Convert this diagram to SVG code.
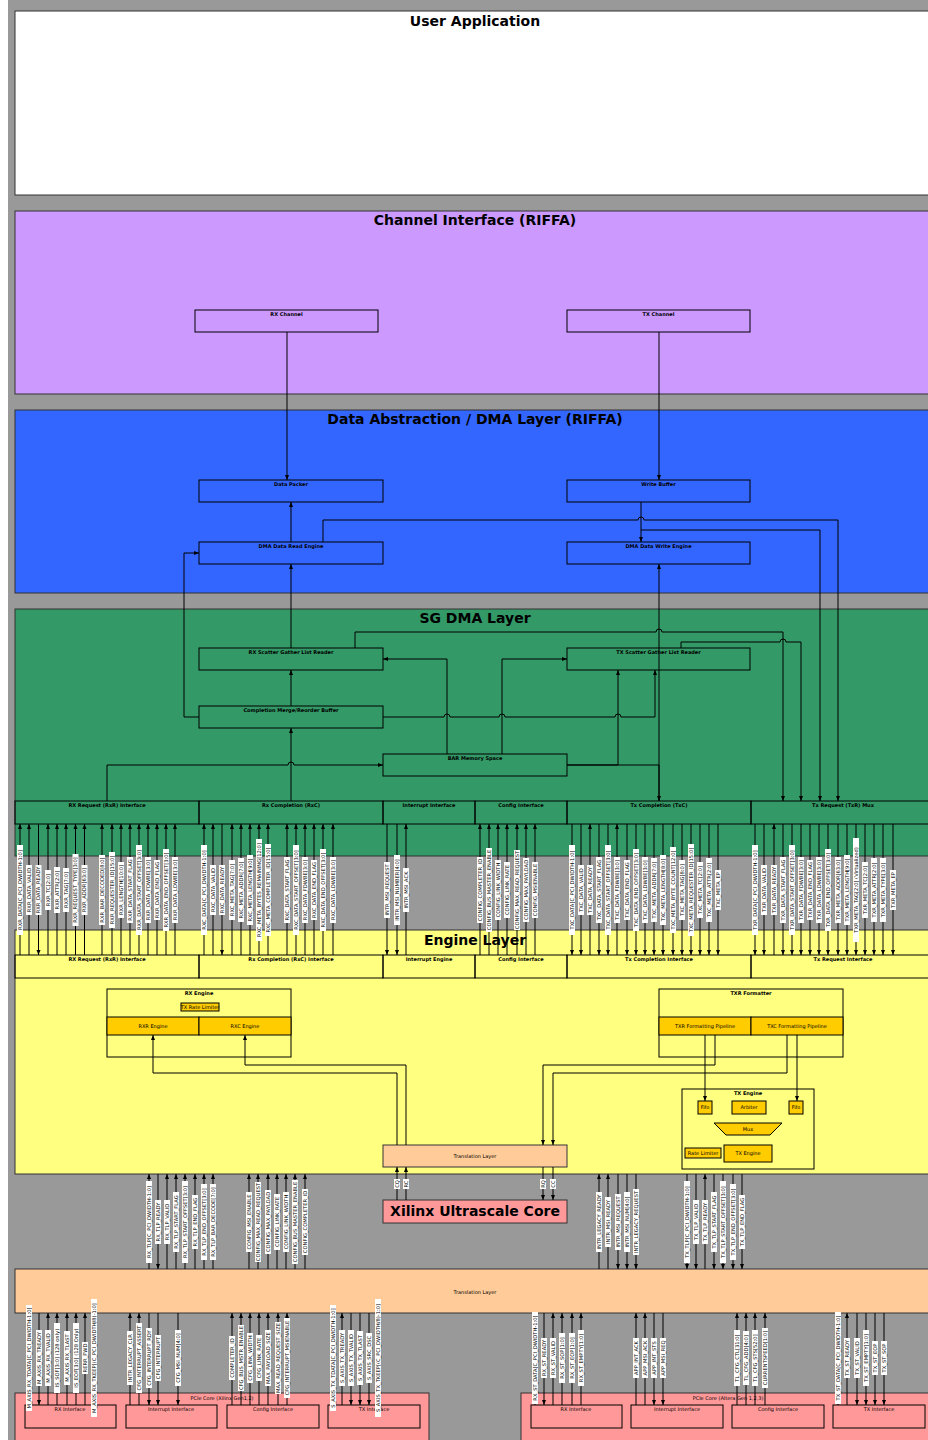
<svg xmlns="http://www.w3.org/2000/svg" width="928" height="1440" viewBox="0 0 928 1440">
<style>
.ly{stroke:#333;stroke-width:1}
.nd{fill:none;stroke:#000;stroke-width:1}
.or{fill:#ffcc00;stroke:#000;stroke-width:1}
.tt{font-family:"DejaVu Sans",sans-serif;font-size:14px;font-weight:bold;text-anchor:middle;fill:#000}
.nb{font-family:"DejaVu Sans",sans-serif;font-size:5px;font-weight:bold;text-anchor:middle;fill:#000}
.nr{font-family:"DejaVu Sans",sans-serif;font-size:5px;text-anchor:middle;fill:#000}
.c{fill:none;stroke:#000;stroke-width:1}
.lb rect{fill:#fff}
.lb text{font-family:"DejaVu Sans",sans-serif;font-size:5.2px;text-anchor:middle;fill:#000}
</style>
<defs>
<marker id="a" viewBox="0 0 10 10" refX="10" refY="5" markerWidth="5" markerHeight="5" markerUnits="userSpaceOnUse" orient="auto"><path d="M0,1L10,5L0,9z" fill="#000"/></marker>
</defs>
<rect x="8" y="0" width="920" height="1440" fill="#999"/>

<g id="user-app"><rect class="ly" x="15" y="11" width="920" height="184" fill="#fff"/><text class="tt" x="475" y="26">User Application</text></g>
<g id="channel-layer"><rect class="ly" x="15" y="211" width="920" height="183" fill="#cc99ff"/><text class="tt" x="475" y="225">Channel Interface (RIFFA)</text></g>
<g id="dma-layer"><rect class="ly" x="15" y="410" width="920" height="183" fill="#3366ff"/><text class="tt" x="475" y="424">Data Abstraction / DMA Layer (RIFFA)</text></g>
<g id="sg-layer"><rect class="ly" x="15" y="609" width="920" height="247" fill="#339966"/><text class="tt" x="475" y="623">SG DMA Layer</text></g>
<g id="engine-layer"><rect class="ly" x="15" y="930" width="920" height="244" fill="#ffff80"/><text class="tt" x="475" y="945">Engine Layer</text></g>
<g id="translation-bottom"><rect class="ly" x="15" y="1269" width="920" height="44" fill="#ffcc99"/><text class="nr" x="475" y="1294">Translation Layer</text></g>
<g id="pcie-xilinx"><rect class="ly" x="15" y="1393" width="414" height="50" fill="#ff9999"/><text class="nr" x="222" y="1400">PCIe Core (Xilinx Gen1,2)</text>
<rect class="nd" x="25" y="1405" width="91" height="23"/><text class="nr" x="70" y="1411">RX Interface</text>
<rect class="nd" x="126" y="1405" width="91" height="23"/><text class="nr" x="171" y="1411">Interrupt Interface</text>
<rect class="nd" x="227" y="1405" width="92" height="23"/><text class="nr" x="273" y="1411">Config Interface</text>
<rect class="nd" x="328" y="1405" width="92" height="23"/><text class="nr" x="374" y="1411">TX Interface</text></g>
<g id="pcie-altera"><rect class="ly" x="521" y="1393" width="414" height="50" fill="#ff9999"/><text class="nr" x="728" y="1400">PCIe Core (Altera Gen 1,2,3)</text>
<rect class="nd" x="531" y="1405" width="91" height="23"/><text class="nr" x="576" y="1411">RX Interface</text>
<rect class="nd" x="631" y="1405" width="92" height="23"/><text class="nr" x="677" y="1411">Interrupt Interface</text>
<rect class="nd" x="732" y="1405" width="92" height="23"/><text class="nr" x="778" y="1411">Config Interface</text>
<rect class="nd" x="833" y="1405" width="92" height="23"/><text class="nr" x="879" y="1411">TX Interface</text></g>
<g id="xilinx-core"><rect class="ly" x="383" y="1200" width="184" height="23" fill="#ff9999"/><text class="tt" x="475" y="1216">Xilinx Ultrascale Core</text></g>

<g id="rx-channel"><rect class="nd" x="195" y="310" width="183" height="22"/><text class="nb" x="286.5" y="316">RX Channel</text></g>
<g id="tx-channel"><rect class="nd" x="567" y="310" width="183" height="22"/><text class="nb" x="658.5" y="316">TX Channel</text></g>
<g id="data-packer"><rect class="nd" x="199" y="480" width="184" height="22"/><text class="nb" x="291" y="486">Data Packer</text></g>
<g id="write-buffer"><rect class="nd" x="567" y="480" width="183" height="22"/><text class="nb" x="658.5" y="486">Write Buffer</text></g>
<g id="dma-read"><rect class="nd" x="199" y="542" width="184" height="22"/><text class="nb" x="291" y="548">DMA Data Read Engine</text></g>
<g id="dma-write"><rect class="nd" x="567" y="542" width="183" height="22"/><text class="nb" x="658.5" y="548">DMA Data Write Engine</text></g>
<g id="rx-sg"><rect class="nd" x="199" y="648" width="184" height="22"/><text class="nb" x="291" y="654">RX Scatter Gather List Reader</text></g>
<g id="tx-sg"><rect class="nd" x="567" y="648" width="183" height="22"/><text class="nb" x="658.5" y="654">TX Scatter Gather List Reader</text></g>
<g id="merge"><rect class="nd" x="199" y="706" width="184" height="22"/><text class="nb" x="291" y="712">Completion Merge/Reorder Buffer</text></g>
<g id="bar"><rect class="nd" x="383" y="754" width="184" height="22"/><text class="nb" x="475" y="760">BAR Memory Space</text></g>
<g id="sg-rxr"><rect class="nd" x="15" y="801" width="184" height="23"/><text class="nb" x="107" y="807">RX Request (RxR) Interface</text></g>
<g id="sg-rxc"><rect class="nd" x="199" y="801" width="184" height="23"/><text class="nb" x="291" y="807">Rx Completion (RxC)</text></g>
<g id="sg-int"><rect class="nd" x="383" y="801" width="92" height="23"/><text class="nb" x="429" y="807">Interrupt Interface</text></g>
<g id="sg-cfg"><rect class="nd" x="475" y="801" width="92" height="23"/><text class="nb" x="521" y="807">Config Interface</text></g>
<g id="sg-txc"><rect class="nd" x="567" y="801" width="184" height="23"/><text class="nb" x="659" y="807">Tx Completion (TxC)</text></g>
<g id="sg-txr"><rect class="nd" x="751" y="801" width="184" height="23"/><text class="nb" x="843" y="807">Tx Request (TxR) Mux</text></g>
<g id="en-rxr"><rect class="nd" x="15" y="955" width="184" height="23"/><text class="nb" x="107" y="961">RX Request (RxR) Interface</text></g>
<g id="en-rxc"><rect class="nd" x="199" y="955" width="184" height="23"/><text class="nb" x="291" y="961">Rx Completion (RxC) Interface</text></g>
<g id="en-int"><rect class="nd" x="383" y="955" width="92" height="23"/><text class="nb" x="429" y="961">Interrupt Engine</text></g>
<g id="en-cfg"><rect class="nd" x="475" y="955" width="92" height="23"/><text class="nb" x="521" y="961">Config Interface</text></g>
<g id="en-txc"><rect class="nd" x="567" y="955" width="184" height="23"/><text class="nb" x="659" y="961">Tx Completion Interface</text></g>
<g id="en-txr"><rect class="nd" x="751" y="955" width="184" height="23"/><text class="nb" x="843" y="961">Tx Request Interface</text></g>
<g id="rx-engine"><rect class="nd" x="107" y="989" width="184" height="68"/><text class="nb" x="199" y="995">RX Engine</text>
<rect class="or" x="181" y="1003" width="38" height="8"/><text class="nr" x="200" y="1009">TX Rate Limiter</text>
<rect class="or" x="107" y="1017" width="92" height="18"/><text class="nr" x="153" y="1028">RXR Engine</text>
<rect class="or" x="199" y="1017" width="92" height="18"/><text class="nr" x="245" y="1028">RXC Engine</text></g>
<g id="txr-formatter"><rect class="nd" x="659" y="989" width="184" height="68"/><text class="nb" x="751" y="995">TXR Formatter</text>
<rect class="or" x="659" y="1017" width="92" height="18"/><text class="nr" x="705" y="1028">TXR Formatting Pipeline</text>
<rect class="or" x="751" y="1017" width="92" height="18"/><text class="nr" x="797" y="1028">TXC Formatting Pipeline</text></g>
<g id="tx-engine"><rect class="nd" x="682" y="1089" width="132" height="80"/><text class="nb" x="748" y="1095">TX Engine</text>
<rect class="or" x="698" y="1101" width="14" height="13"/><text class="nr" x="705" y="1109">Fifo</text>
<rect class="or" x="732" y="1101" width="34" height="13"/><text class="nr" x="749" y="1109">Arbiter</text>
<rect class="or" x="789" y="1101" width="14" height="13"/><text class="nr" x="796" y="1109">Fifo</text>
<path class="or" d="M714,1123H782L770,1135H726Z"/><text class="nr" x="748" y="1131">Mux</text>
<rect class="or" x="685" y="1148" width="36" height="10"/><text class="nr" x="703" y="1155">Rate Limiter</text>
<rect class="or" x="724" y="1145" width="48" height="17"/><text class="nr" x="748" y="1155">TX Engine</text></g>
<g id="translation-engine"><rect class="ly" x="383" y="1145" width="184" height="22" fill="#ffcc99"/><text class="nr" x="475" y="1158">Translation Layer</text></g>

<g id="connectors" marker-end="url(#a)">
<path class="c" d="M287,332V480"/>
<path class="c" d="M659,332V480"/>
<path class="c" d="M291,542V502"/>
<path class="c" d="M323,542V520H638a3,3 0 0 1 6,0H838V801"/>
<path class="c" d="M641,502V542"/>
<path class="c" d="M641,530H820V801"/>
<path class="c" d="M659,801V564"/>
<path class="c" d="M291,648V564"/>
<path class="c" d="M291,706V670"/>
<path class="c" d="M291,801V728"/>
<path class="c" d="M107,801V765H288a3,3 0 0 1 6,0H383"/>
<path class="c" d="M447,754V659H383"/>
<path class="c" d="M502,754V659H567"/>
<path class="c" d="M383,717H444a3,3 0 0 1 6,0H499a3,3 0 0 1 6,0H615a3,3 0 0 1 6,0H655V670"/>
<path class="c" d="M567,765H618V670"/>
<path class="c" d="M567,765H659V801"/>
<path class="c" d="M355,648V632H656a3,3 0 0 1 6,0H783V801"/>
<path class="c" d="M681,648V642H780a3,3 0 0 1 6,0H801V801"/>
<path class="c" d="M199,717H184V553H199"/>
<path class="c" d="M397,1145V1073H153V1035"/>
<path class="c" d="M406,1145V1065H245V1035"/>
<path class="c" d="M705,1035V1101"/>
<path class="c" d="M797,1035V1101"/>
<path class="c" d="M715,1035V1065H543V1145"/>
<path class="c" d="M787,1035V1073H553V1145"/>
<path class="c" d="M397,1200V1167"/>
<path class="c" d="M406,1200V1167"/>
<path class="c" d="M543,1167V1200"/>
<path class="c" d="M553,1167V1200"/>

<path class="c" d="M20,955V824"/><path class="c" d="M29,955V824"/><path class="c" d="M38.5,824V955"/><path class="c" d="M48,955V824"/><path class="c" d="M57,955V824"/><path class="c" d="M66,955V824"/><path class="c" d="M75.5,955V824"/><path class="c" d="M84.5,955V824"/>
<path class="c" d="M102,955V824"/><path class="c" d="M112,955V824"/><path class="c" d="M121,955V824"/><path class="c" d="M130,955V824"/><path class="c" d="M139,955V824"/><path class="c" d="M148,955V824"/><path class="c" d="M157,955V824"/><path class="c" d="M166,955V824"/><path class="c" d="M175,955V824"/>
<path class="c" d="M204,955V824"/><path class="c" d="M213,955V824"/><path class="c" d="M222,824V955"/><path class="c" d="M232,955V824"/><path class="c" d="M241,955V824"/><path class="c" d="M250,955V824"/><path class="c" d="M259,955V824"/><path class="c" d="M268,955V824"/>
<path class="c" d="M287,955V824"/><path class="c" d="M296,955V824"/><path class="c" d="M305,955V824"/><path class="c" d="M314,955V824"/><path class="c" d="M323,955V824"/><path class="c" d="M333,955V824"/>
<path class="c" d="M387,824V955"/><path class="c" d="M397,824V955"/><path class="c" d="M406,955V824"/>
<path class="c" d="M480,955V824"/><path class="c" d="M489,955V824"/><path class="c" d="M498,955V824"/><path class="c" d="M507,955V824"/><path class="c" d="M517,955V824"/><path class="c" d="M526,955V824"/><path class="c" d="M535,955V824"/>
<path class="c" d="M572,824V955"/><path class="c" d="M581,824V955"/><path class="c" d="M590,955V824"/><path class="c" d="M599,824V955"/><path class="c" d="M608,824V955"/><path class="c" d="M617,955V824"/><path class="c" d="M627,824V955"/><path class="c" d="M636,824V955"/><path class="c" d="M645,824V955"/><path class="c" d="M654,824V955"/><path class="c" d="M663,824V955"/><path class="c" d="M673,824V955"/><path class="c" d="M682,824V955"/><path class="c" d="M691,824V955"/><path class="c" d="M700,824V955"/><path class="c" d="M709,824V955"/><path class="c" d="M718,824V955"/>
<path class="c" d="M755,824V955"/><path class="c" d="M764,824V955"/><path class="c" d="M774,955V824"/><path class="c" d="M783,824V955"/><path class="c" d="M792,824V955"/><path class="c" d="M801,824V955"/><path class="c" d="M810,824V955"/><path class="c" d="M819,824V955"/><path class="c" d="M828,824V955"/><path class="c" d="M838,824V955"/><path class="c" d="M847,824V955"/><path class="c" d="M856,824V955"/><path class="c" d="M865,824V955"/><path class="c" d="M874,824V955"/><path class="c" d="M883,824V955"/><path class="c" d="M893,824V955"/>

<path class="c" d="M149,1269V1174"/><path class="c" d="M158,1174V1269"/><path class="c" d="M167,1269V1174"/><path class="c" d="M176,1269V1174"/><path class="c" d="M185,1269V1174"/><path class="c" d="M195,1269V1174"/><path class="c" d="M204,1269V1174"/><path class="c" d="M213,1269V1174"/>
<path class="c" d="M249,1269V1174"/><path class="c" d="M258,1269V1174"/><path class="c" d="M268,1269V1174"/><path class="c" d="M277,1269V1174"/><path class="c" d="M286,1269V1174"/><path class="c" d="M295,1269V1174"/><path class="c" d="M305,1269V1174"/>
<path class="c" d="M599,1269V1174"/><path class="c" d="M608,1269V1174"/><path class="c" d="M618,1174V1269"/><path class="c" d="M627,1174V1269"/><path class="c" d="M636,1174V1269"/>
<path class="c" d="M687,1174V1269"/><path class="c" d="M696,1174V1269"/><path class="c" d="M705,1269V1174"/><path class="c" d="M714,1174V1269"/><path class="c" d="M723,1174V1269"/><path class="c" d="M733,1174V1269"/><path class="c" d="M742,1174V1269"/>

<path class="c" d="M29,1405V1313"/><path class="c" d="M39,1313V1405"/><path class="c" d="M48,1405V1313"/><path class="c" d="M57,1405V1313"/><path class="c" d="M67,1405V1313"/><path class="c" d="M76,1405V1313"/><path class="c" d="M85,1405V1313"/><path class="c" d="M94,1405V1313"/>
<path class="c" d="M130,1405V1313"/><path class="c" d="M139,1405V1313"/><path class="c" d="M149,1313V1405"/><path class="c" d="M158,1313V1405"/><path class="c" d="M178,1313V1405"/>
<path class="c" d="M232,1405V1313"/><path class="c" d="M241,1405V1313"/><path class="c" d="M250,1405V1313"/><path class="c" d="M259,1405V1313"/><path class="c" d="M268,1405V1313"/><path class="c" d="M278,1405V1313"/><path class="c" d="M287,1405V1313"/>
<path class="c" d="M333,1313V1405"/><path class="c" d="M342,1405V1313"/><path class="c" d="M351,1313V1405"/><path class="c" d="M360,1313V1405"/><path class="c" d="M369,1313V1405"/><path class="c" d="M378,1313V1405"/>
<path class="c" d="M535,1405V1313"/><path class="c" d="M544,1313V1405"/><path class="c" d="M553,1405V1313"/><path class="c" d="M562,1405V1313"/><path class="c" d="M572,1405V1313"/><path class="c" d="M581,1405V1313"/>
<path class="c" d="M636,1405V1313"/><path class="c" d="M645,1405V1313"/><path class="c" d="M654,1313V1405"/><path class="c" d="M663,1313V1405"/>
<path class="c" d="M737,1405V1313"/><path class="c" d="M746,1405V1313"/><path class="c" d="M755,1405V1313"/><path class="c" d="M765,1405V1313"/>
<path class="c" d="M838,1313V1405"/><path class="c" d="M847,1405V1313"/><path class="c" d="M857,1313V1405"/><path class="c" d="M866,1313V1405"/><path class="c" d="M875,1313V1405"/><path class="c" d="M884,1313V1405"/>
</g>

<g id="labels" class="lb">
<g transform="translate(397,1184) rotate(-90)"><rect x="-5" y="-3" width="10" height="6"/><text y="1.8">CQ</text></g>
<g transform="translate(406,1184) rotate(-90)"><rect x="-5" y="-3" width="10" height="6"/><text y="1.8">RC</text></g>
<g transform="translate(543,1184) rotate(-90)"><rect x="-5" y="-3" width="10" height="6"/><text y="1.8">RQ</text></g>
<g transform="translate(553,1184) rotate(-90)"><rect x="-5" y="-3" width="10" height="6"/><text y="1.8">CC</text></g>

<g transform="translate(20,890) rotate(-90)"><rect x="-45" y="-3" width="90" height="6"/><text y="1.8">RXR_DATA[C_PCI_DWIDTH-1:0]</text></g>
<g transform="translate(29,890) rotate(-90)"><rect x="-25" y="-3" width="50" height="6"/><text y="1.8">RXR_DATA_VALID</text></g>
<g transform="translate(38.5,890) rotate(-90)"><rect x="-25" y="-3" width="50" height="6"/><text y="1.8">RXR_DATA_READY</text></g>
<g transform="translate(48,890) rotate(-90)"><rect x="-20" y="-3" width="40" height="6"/><text y="1.8">RXR_TC[2:0]</text></g>
<g transform="translate(57,890) rotate(-90)"><rect x="-23" y="-3" width="46" height="6"/><text y="1.8">RXR_ATTR[2:0]</text></g>
<g transform="translate(66,890) rotate(-90)"><rect x="-22" y="-3" width="44" height="6"/><text y="1.8">RXR_TAG[7:0]</text></g>
<g transform="translate(75.5,890) rotate(-90)"><rect x="-36" y="-3" width="72" height="6"/><text y="1.8">RXR_REQUEST_TYPE[3:0]</text></g>
<g transform="translate(84.5,890) rotate(-90)"><rect x="-25" y="-3" width="50" height="6"/><text y="1.8">RXR_ADDR[63:0]</text></g>
<g transform="translate(102,890) rotate(-90)"><rect x="-35" y="-3" width="70" height="6"/><text y="1.8">RXR_BAR_DECODED[8:0]</text></g>
<g transform="translate(112,890) rotate(-90)"><rect x="-38" y="-3" width="76" height="6"/><text y="1.8">RXR_REQUESTER_ID[15:0]</text></g>
<g transform="translate(121,890) rotate(-90)"><rect x="-28" y="-3" width="56" height="6"/><text y="1.8">RXR_LENGTH[10:0]</text></g>
<g transform="translate(130,890) rotate(-90)"><rect x="-33" y="-3" width="66" height="6"/><text y="1.8">RXR_DATA_START_FLAG</text></g>
<g transform="translate(139,890) rotate(-90)"><rect x="-45" y="-3" width="90" height="6"/><text y="1.8">RXR_DATA_START_OFFSET[3:0]</text></g>
<g transform="translate(148,890) rotate(-90)"><rect x="-33" y="-3" width="66" height="6"/><text y="1.8">RXR_DATA_FDWBE[3:0]</text></g>
<g transform="translate(157,890) rotate(-90)"><rect x="-30" y="-3" width="60" height="6"/><text y="1.8">RXR_DATA_END_FLAG</text></g>
<g transform="translate(166,890) rotate(-90)"><rect x="-41" y="-3" width="82" height="6"/><text y="1.8">RXR_DATA_END_OFFSET[3:0]</text></g>
<g transform="translate(175,890) rotate(-90)"><rect x="-33" y="-3" width="66" height="6"/><text y="1.8">RXR_DATA_LDWBE[3:0]</text></g>

<g transform="translate(204,890) rotate(-90)"><rect x="-45" y="-3" width="90" height="6"/><text y="1.8">RXC_DATA[C_PCI_DWIDTH-1:0]</text></g>
<g transform="translate(213,890) rotate(-90)"><rect x="-25" y="-3" width="50" height="6"/><text y="1.8">RXC_DATA_VALID</text></g>
<g transform="translate(222,890) rotate(-90)"><rect x="-25" y="-3" width="50" height="6"/><text y="1.8">RXC_DATA_READY</text></g>
<g transform="translate(232,890) rotate(-90)"><rect x="-30" y="-3" width="60" height="6"/><text y="1.8">RXC_META_TAG[7:0]</text></g>
<g transform="translate(241,890) rotate(-90)"><rect x="-32" y="-3" width="64" height="6"/><text y="1.8">RXC_META_ADDR[7:0]</text></g>
<g transform="translate(250,890) rotate(-90)"><rect x="-35" y="-3" width="70" height="6"/><text y="1.8">RXC_META_LENGTH[9:0]</text></g>
<g transform="translate(259,890) rotate(-90)"><rect x="-51" y="-3" width="102" height="6"/><text y="1.8">RXC_META_BYTES_REMAINING[12:0]</text></g>
<g transform="translate(268,890) rotate(-90)"><rect x="-46" y="-3" width="92" height="6"/><text y="1.8">RXC_META_COMPLETER_ID[15:0]</text></g>
<g transform="translate(287,890) rotate(-90)"><rect x="-33" y="-3" width="66" height="6"/><text y="1.8">RXC_DATA_START_FLAG</text></g>
<g transform="translate(296,890) rotate(-90)"><rect x="-45" y="-3" width="90" height="6"/><text y="1.8">RXC_DATA_START_OFFSET[3:0]</text></g>
<g transform="translate(305,890) rotate(-90)"><rect x="-33" y="-3" width="66" height="6"/><text y="1.8">RXC_DATA_FDWBE[3:0]</text></g>
<g transform="translate(314,890) rotate(-90)"><rect x="-30" y="-3" width="60" height="6"/><text y="1.8">RXC_DATA_END_FLAG</text></g>
<g transform="translate(323,890) rotate(-90)"><rect x="-41" y="-3" width="82" height="6"/><text y="1.8">RXC_DATA_END_OFFSET[3:0]</text></g>
<g transform="translate(333,890) rotate(-90)"><rect x="-33" y="-3" width="66" height="6"/><text y="1.8">RXC_DATA_LDWBE[3:0]</text></g>

<g transform="translate(387,890) rotate(-90)"><rect x="-28" y="-3" width="56" height="6"/><text y="1.8">INTR_MSI_REQUEST</text></g>
<g transform="translate(397,890) rotate(-90)"><rect x="-35" y="-3" width="70" height="6"/><text y="1.8">INTR_MSI_NUMBER[4:0]</text></g>
<g transform="translate(406,890) rotate(-90)"><rect x="-22" y="-3" width="44" height="6"/><text y="1.8">INTR_MSI_ACK</text></g>

<g transform="translate(480,890) rotate(-90)"><rect x="-33" y="-3" width="66" height="6"/><text y="1.8">CONFIG_COMPLETER_ID</text></g>
<g transform="translate(489,890) rotate(-90)"><rect x="-42" y="-3" width="84" height="6"/><text y="1.8">CONFIG_BUS_MASTER_ENABLE</text></g>
<g transform="translate(498,890) rotate(-90)"><rect x="-30" y="-3" width="60" height="6"/><text y="1.8">CONFIG_LINK_WIDTH</text></g>
<g transform="translate(507,890) rotate(-90)"><rect x="-28" y="-3" width="56" height="6"/><text y="1.8">CONFIG_LINK_RATE</text></g>
<g transform="translate(517,890) rotate(-90)"><rect x="-40" y="-3" width="80" height="6"/><text y="1.8">CONFIG_MAX_READ_REQUEST</text></g>
<g transform="translate(526,890) rotate(-90)"><rect x="-32" y="-3" width="64" height="6"/><text y="1.8">CONFIG_MAX_PAYLOAD</text></g>
<g transform="translate(535,890) rotate(-90)"><rect x="-28" y="-3" width="56" height="6"/><text y="1.8">CONFIG_MSIENABLE</text></g>

<g transform="translate(572,890) rotate(-90)"><rect x="-45" y="-3" width="90" height="6"/><text y="1.8">TXC_DATA[C_PCI_DWIDTH-1:0]</text></g>
<g transform="translate(581,890) rotate(-90)"><rect x="-25" y="-3" width="50" height="6"/><text y="1.8">TXC_DATA_VALID</text></g>
<g transform="translate(590,890) rotate(-90)"><rect x="-25" y="-3" width="50" height="6"/><text y="1.8">TXC_DATA_READY</text></g>
<g transform="translate(599,890) rotate(-90)"><rect x="-33" y="-3" width="66" height="6"/><text y="1.8">TXC_DATA_START_FLAG</text></g>
<g transform="translate(608,890) rotate(-90)"><rect x="-45" y="-3" width="90" height="6"/><text y="1.8">TXC_DATA_START_OFFSET[3:0]</text></g>
<g transform="translate(617,890) rotate(-90)"><rect x="-33" y="-3" width="66" height="6"/><text y="1.8">TXC_DATA_FDWBE[3:0]</text></g>
<g transform="translate(627,890) rotate(-90)"><rect x="-30" y="-3" width="60" height="6"/><text y="1.8">TXC_DATA_END_FLAG</text></g>
<g transform="translate(636,890) rotate(-90)"><rect x="-41" y="-3" width="82" height="6"/><text y="1.8">TXC_DATA_END_OFFSET[3:0]</text></g>
<g transform="translate(645,890) rotate(-90)"><rect x="-33" y="-3" width="66" height="6"/><text y="1.8">TXC_DATA_LDWBE[3:0]</text></g>
<g transform="translate(654,890) rotate(-90)"><rect x="-32" y="-3" width="64" height="6"/><text y="1.8">TXC_META_ADDR[7:0]</text></g>
<g transform="translate(663,890) rotate(-90)"><rect x="-35" y="-3" width="70" height="6"/><text y="1.8">TXC_META_LENGTH[8:0]</text></g>
<g transform="translate(673,890) rotate(-90)"><rect x="-43" y="-3" width="86" height="6"/><text y="1.8">TXC_META_BYTE_COUNT[12:0]</text></g>
<g transform="translate(682,890) rotate(-90)"><rect x="-30" y="-3" width="60" height="6"/><text y="1.8">TXC_META_TAG[8:0]</text></g>
<g transform="translate(691,890) rotate(-90)"><rect x="-46" y="-3" width="92" height="6"/><text y="1.8">TXC_META_REQUESTER_ID[15:0]</text></g>
<g transform="translate(700,890) rotate(-90)"><rect x="-28" y="-3" width="56" height="6"/><text y="1.8">TXC_META_TC[2:0]</text></g>
<g transform="translate(709,890) rotate(-90)"><rect x="-32" y="-3" width="64" height="6"/><text y="1.8">TXC_META_ATTR[2:0]</text></g>
<g transform="translate(718,890) rotate(-90)"><rect x="-20" y="-3" width="40" height="6"/><text y="1.8">TXC_META_EP</text></g>

<g transform="translate(755,890) rotate(-90)"><rect x="-45" y="-3" width="90" height="6"/><text y="1.8">TXR_DATA[C_PCI_DWIDTH-1:0]</text></g>
<g transform="translate(764,890) rotate(-90)"><rect x="-25" y="-3" width="50" height="6"/><text y="1.8">TXR_DATA_VALID</text></g>
<g transform="translate(774,890) rotate(-90)"><rect x="-25" y="-3" width="50" height="6"/><text y="1.8">TXR_DATA_READY</text></g>
<g transform="translate(783,890) rotate(-90)"><rect x="-33" y="-3" width="66" height="6"/><text y="1.8">TXR_DATA_START_FLAG</text></g>
<g transform="translate(792,890) rotate(-90)"><rect x="-45" y="-3" width="90" height="6"/><text y="1.8">TXR_DATA_START_OFFSET[3:0]</text></g>
<g transform="translate(801,890) rotate(-90)"><rect x="-33" y="-3" width="66" height="6"/><text y="1.8">TXR_DATA_FDWBE[3:0]</text></g>
<g transform="translate(810,890) rotate(-90)"><rect x="-30" y="-3" width="60" height="6"/><text y="1.8">TXR_DATA_END_FLAG</text></g>
<g transform="translate(819,890) rotate(-90)"><rect x="-33" y="-3" width="66" height="6"/><text y="1.8">TXR_DATA_LDWBE[3:0]</text></g>
<g transform="translate(828,890) rotate(-90)"><rect x="-41" y="-3" width="82" height="6"/><text y="1.8">TXR_DATA_END_OFFSET[3:0]</text></g>
<g transform="translate(838,890) rotate(-90)"><rect x="-33" y="-3" width="66" height="6"/><text y="1.8">TXR_META_ADDR[63:0]</text></g>
<g transform="translate(847,890) rotate(-90)"><rect x="-35" y="-3" width="70" height="6"/><text y="1.8">TXR_META_LENGTH[9:0]</text></g>
<g transform="translate(856,890) rotate(-90)"><rect x="-52" y="-3" width="104" height="6"/><text y="1.8">TXR_META_TAG[2:0] (Virtualized)</text></g>
<g transform="translate(865,890) rotate(-90)"><rect x="-28" y="-3" width="56" height="6"/><text y="1.8">TXR_META_TC[2:0]</text></g>
<g transform="translate(874,890) rotate(-90)"><rect x="-32" y="-3" width="64" height="6"/><text y="1.8">TXR_META_ATTR[2:0]</text></g>
<g transform="translate(883,890) rotate(-90)"><rect x="-32" y="-3" width="64" height="6"/><text y="1.8">TXR_META_TYPE[3:0]</text></g>
<g transform="translate(893,890) rotate(-90)"><rect x="-20" y="-3" width="40" height="6"/><text y="1.8">TXR_META_EP</text></g>

<g transform="translate(149,1222) rotate(-90)"><rect x="-41" y="-3" width="82" height="6"/><text y="1.8">RX_TLP[C_PCI_DWIDTH-1:0]</text></g>
<g transform="translate(158,1222) rotate(-90)"><rect x="-22" y="-3" width="44" height="6"/><text y="1.8">RX_TLP_READY</text></g>
<g transform="translate(167,1222) rotate(-90)"><rect x="-22" y="-3" width="44" height="6"/><text y="1.8">RX_TLP_VALID</text></g>
<g transform="translate(176,1222) rotate(-90)"><rect x="-30" y="-3" width="60" height="6"/><text y="1.8">RX_TLP_START_FLAG</text></g>
<g transform="translate(185,1222) rotate(-90)"><rect x="-41" y="-3" width="82" height="6"/><text y="1.8">RX_TLP_START_OFFSET[3:0]</text></g>
<g transform="translate(195,1222) rotate(-90)"><rect x="-27" y="-3" width="54" height="6"/><text y="1.8">RX_TLP_END_FLAG</text></g>
<g transform="translate(204,1222) rotate(-90)"><rect x="-38" y="-3" width="76" height="6"/><text y="1.8">RX_TLP_END_OFFSET[3:0]</text></g>
<g transform="translate(213,1222) rotate(-90)"><rect x="-38" y="-3" width="76" height="6"/><text y="1.8">RX_TLP_BAR_DECODE[7:0]</text></g>
<g transform="translate(249,1222) rotate(-90)"><rect x="-30" y="-3" width="60" height="6"/><text y="1.8">CONFIG_MSI_ENABLE</text></g>
<g transform="translate(258,1222) rotate(-90)"><rect x="-40" y="-3" width="80" height="6"/><text y="1.8">CONFIG_MAX_READ_REQUEST</text></g>
<g transform="translate(268,1222) rotate(-90)"><rect x="-32" y="-3" width="64" height="6"/><text y="1.8">CONFIG_MAX_PAYLOAD</text></g>
<g transform="translate(277,1222) rotate(-90)"><rect x="-28" y="-3" width="56" height="6"/><text y="1.8">CONFIG_LINK_RATE</text></g>
<g transform="translate(286,1222) rotate(-90)"><rect x="-30" y="-3" width="60" height="6"/><text y="1.8">CONFIG_LINK_WIDTH</text></g>
<g transform="translate(295,1222) rotate(-90)"><rect x="-42" y="-3" width="84" height="6"/><text y="1.8">CONFIG_BUS_MASTER_ENABLE</text></g>
<g transform="translate(305,1222) rotate(-90)"><rect x="-33" y="-3" width="66" height="6"/><text y="1.8">CONFIG_COMPLETER_ID</text></g>
<g transform="translate(599,1222) rotate(-90)"><rect x="-30" y="-3" width="60" height="6"/><text y="1.8">INTR_LEGACY_READY</text></g>
<g transform="translate(608,1222) rotate(-90)"><rect x="-25" y="-3" width="50" height="6"/><text y="1.8">INTR_MSI_READY</text></g>
<g transform="translate(618,1222) rotate(-90)"><rect x="-28" y="-3" width="56" height="6"/><text y="1.8">INTR_MSI_REQUEST</text></g>
<g transform="translate(627,1222) rotate(-90)"><rect x="-30" y="-3" width="60" height="6"/><text y="1.8">INTR_MSI_NUM[4:0]</text></g>
<g transform="translate(636,1222) rotate(-90)"><rect x="-33" y="-3" width="66" height="6"/><text y="1.8">INTR_LEGACY_REQUEST</text></g>
<g transform="translate(687,1222) rotate(-90)"><rect x="-41" y="-3" width="82" height="6"/><text y="1.8">TX_TLP[C_PCI_DWIDTH-1:0]</text></g>
<g transform="translate(696,1222) rotate(-90)"><rect x="-22" y="-3" width="44" height="6"/><text y="1.8">TX_TLP_VALID</text></g>
<g transform="translate(705,1222) rotate(-90)"><rect x="-22" y="-3" width="44" height="6"/><text y="1.8">TX_TLP_READY</text></g>
<g transform="translate(714,1222) rotate(-90)"><rect x="-30" y="-3" width="60" height="6"/><text y="1.8">TX_TLP_START_FLAG</text></g>
<g transform="translate(723,1222) rotate(-90)"><rect x="-41" y="-3" width="82" height="6"/><text y="1.8">TX_TLP_START_OFFSET[3:0]</text></g>
<g transform="translate(733,1222) rotate(-90)"><rect x="-38" y="-3" width="76" height="6"/><text y="1.8">TX_TLP_END_OFFSET[3:0]</text></g>
<g transform="translate(742,1222) rotate(-90)"><rect x="-27" y="-3" width="54" height="6"/><text y="1.8">TX_TLP_END_FLAG</text></g>

<g transform="translate(29,1358) rotate(-90)"><rect x="-53" y="-3" width="106" height="6"/><text y="1.8">M_AXIS_RX_TDATA[C_PCI_DWIDTH-1:0]</text></g>
<g transform="translate(39,1358) rotate(-90)"><rect x="-28" y="-3" width="56" height="6"/><text y="1.8">M_AXIS_RX_TREADY</text></g>
<g transform="translate(48,1358) rotate(-90)"><rect x="-28" y="-3" width="56" height="6"/><text y="1.8">M_AXIS_RX_TVALID</text></g>
<g transform="translate(57,1358) rotate(-90)"><rect x="-35" y="-3" width="70" height="6"/><text y="1.8">IS_SOF[3:0] (128 only)</text></g>
<g transform="translate(67,1358) rotate(-90)"><rect x="-27" y="-3" width="54" height="6"/><text y="1.8">M_AXIS_RX_TLAST</text></g>
<g transform="translate(76,1358) rotate(-90)"><rect x="-35" y="-3" width="70" height="6"/><text y="1.8">IS_EOF[3:0] (128 Only)</text></g>
<g transform="translate(85,1358) rotate(-90)"><rect x="-16" y="-3" width="32" height="6"/><text y="1.8">RERR_FWD</text></g>
<g transform="translate(94,1358) rotate(-90)"><rect x="-59" y="-3" width="118" height="6"/><text y="1.8">M_AXIS_RX_TKEEP[(C_PCI_DWIDTH/8)-1:0]</text></g>
<g transform="translate(130,1358) rotate(-90)"><rect x="-27" y="-3" width="54" height="6"/><text y="1.8">INTR_LEGACY_CLR</text></g>
<g transform="translate(139,1358) rotate(-90)"><rect x="-35" y="-3" width="70" height="6"/><text y="1.8">CFG_INTERRUPT_ASSERT</text></g>
<g transform="translate(149,1358) rotate(-90)"><rect x="-30" y="-3" width="60" height="6"/><text y="1.8">CFG_INTERRUPT_RDY</text></g>
<g transform="translate(158,1358) rotate(-90)"><rect x="-23" y="-3" width="46" height="6"/><text y="1.8">CFG_INTERRUPT</text></g>
<g transform="translate(178,1358) rotate(-90)"><rect x="-28" y="-3" width="56" height="6"/><text y="1.8">CFG_MSI_NUM[4:0]</text></g>
<g transform="translate(232,1358) rotate(-90)"><rect x="-22" y="-3" width="44" height="6"/><text y="1.8">COMPLETER_ID</text></g>
<g transform="translate(241,1358) rotate(-90)"><rect x="-33" y="-3" width="66" height="6"/><text y="1.8">CFG_BUS_MSTR_ENABLE</text></g>
<g transform="translate(250,1358) rotate(-90)"><rect x="-25" y="-3" width="50" height="6"/><text y="1.8">CFG_LINK_WIDTH</text></g>
<g transform="translate(259,1358) rotate(-90)"><rect x="-23" y="-3" width="46" height="6"/><text y="1.8">CFG_LINK_RATE</text></g>
<g transform="translate(268,1358) rotate(-90)"><rect x="-28" y="-3" width="56" height="6"/><text y="1.8">MAX_PAYLOAD_SIZE</text></g>
<g transform="translate(278,1358) rotate(-90)"><rect x="-36" y="-3" width="72" height="6"/><text y="1.8">MAX_READ_REQUEST_SIZE</text></g>
<g transform="translate(287,1358) rotate(-90)"><rect x="-40" y="-3" width="80" height="6"/><text y="1.8">CFG_INTERRUPT_MSIENABLE</text></g>
<g transform="translate(333,1358) rotate(-90)"><rect x="-53" y="-3" width="106" height="6"/><text y="1.8">S_AXIS_TX_TDATA[C_PCI_DWIDTH-1:0]</text></g>
<g transform="translate(342,1358) rotate(-90)"><rect x="-28" y="-3" width="56" height="6"/><text y="1.8">S_AXIS_TX_TREADY</text></g>
<g transform="translate(351,1358) rotate(-90)"><rect x="-28" y="-3" width="56" height="6"/><text y="1.8">S_AXIS_TX_TVALID</text></g>
<g transform="translate(360,1358) rotate(-90)"><rect x="-27" y="-3" width="54" height="6"/><text y="1.8">S_AXIS_TX_TLAST</text></g>
<g transform="translate(369,1358) rotate(-90)"><rect x="-25" y="-3" width="50" height="6"/><text y="1.8">S_AXIS_SRC_DSC</text></g>
<g transform="translate(378,1358) rotate(-90)"><rect x="-59" y="-3" width="118" height="6"/><text y="1.8">S_AXIS_TX_TKEEP[(C_PCI_DWIDTH/8)-1:0]</text></g>
<g transform="translate(535,1358) rotate(-90)"><rect x="-46" y="-3" width="92" height="6"/><text y="1.8">RX_ST_DATA[C_PCI_DWIDTH-1:0]</text></g>
<g transform="translate(544,1358) rotate(-90)"><rect x="-20" y="-3" width="40" height="6"/><text y="1.8">RX_ST_READY</text></g>
<g transform="translate(553,1358) rotate(-90)"><rect x="-20" y="-3" width="40" height="6"/><text y="1.8">RX_ST_VALID</text></g>
<g transform="translate(562,1358) rotate(-90)"><rect x="-25" y="-3" width="50" height="6"/><text y="1.8">RX_ST_SOP[1:0]</text></g>
<g transform="translate(572,1358) rotate(-90)"><rect x="-25" y="-3" width="50" height="6"/><text y="1.8">RX_ST_EOP[1:0]</text></g>
<g transform="translate(581,1358) rotate(-90)"><rect x="-28" y="-3" width="56" height="6"/><text y="1.8">RX_ST_EMPTY[1:0]</text></g>
<g transform="translate(636,1358) rotate(-90)"><rect x="-20" y="-3" width="40" height="6"/><text y="1.8">APP_INT_ACK</text></g>
<g transform="translate(645,1358) rotate(-90)"><rect x="-20" y="-3" width="40" height="6"/><text y="1.8">APP_MSI_ACK</text></g>
<g transform="translate(654,1358) rotate(-90)"><rect x="-20" y="-3" width="40" height="6"/><text y="1.8">APP_INT_STS</text></g>
<g transform="translate(663,1358) rotate(-90)"><rect x="-20" y="-3" width="40" height="6"/><text y="1.8">APP_MSI_REQ</text></g>
<g transform="translate(737,1358) rotate(-90)"><rect x="-28" y="-3" width="56" height="6"/><text y="1.8">TL_CFG_CTL[31:0]</text></g>
<g transform="translate(746,1358) rotate(-90)"><rect x="-27" y="-3" width="54" height="6"/><text y="1.8">TL_CFG_ADD[4:0]</text></g>
<g transform="translate(755,1358) rotate(-90)"><rect x="-28" y="-3" width="56" height="6"/><text y="1.8">TL_CFG_STS[52:0]</text></g>
<g transform="translate(765,1358) rotate(-90)"><rect x="-30" y="-3" width="60" height="6"/><text y="1.8">CURRENTSPEED[1:0]</text></g>
<g transform="translate(838,1358) rotate(-90)"><rect x="-46" y="-3" width="92" height="6"/><text y="1.8">TX_ST_DATA[C_PCI_DWIDTH-1:0]</text></g>
<g transform="translate(847,1358) rotate(-90)"><rect x="-20" y="-3" width="40" height="6"/><text y="1.8">TX_ST_READY</text></g>
<g transform="translate(857,1358) rotate(-90)"><rect x="-20" y="-3" width="40" height="6"/><text y="1.8">TX_ST_VALID</text></g>
<g transform="translate(866,1358) rotate(-90)"><rect x="-28" y="-3" width="56" height="6"/><text y="1.8">TX_ST_EMPTY[1:0]</text></g>
<g transform="translate(875,1358) rotate(-90)"><rect x="-17" y="-3" width="34" height="6"/><text y="1.8">TX_ST_EOP</text></g>
<g transform="translate(884,1358) rotate(-90)"><rect x="-17" y="-3" width="34" height="6"/><text y="1.8">TX_ST_SOP</text></g>
</g>
</svg>
